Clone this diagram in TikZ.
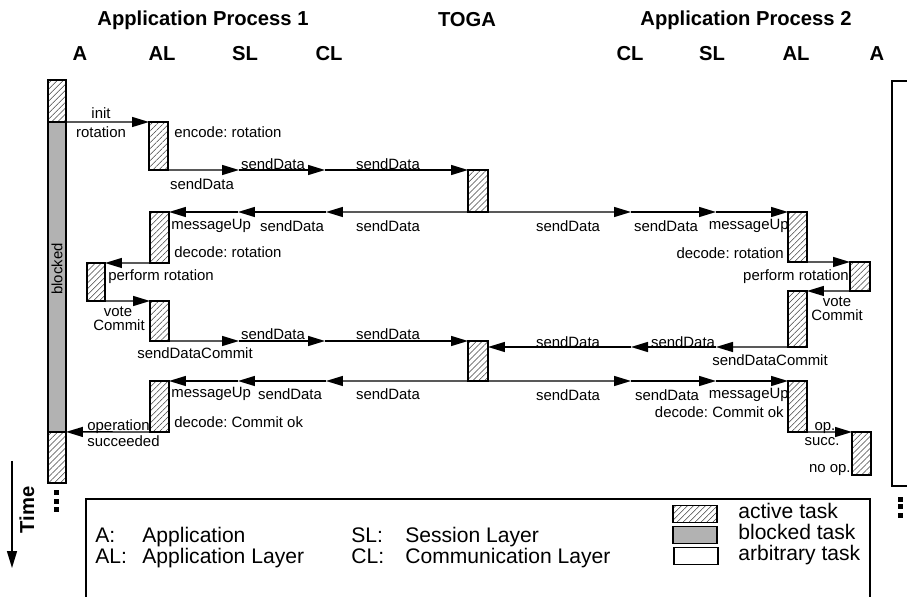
\documentclass[tikz,border=0pt]{standalone}
\usepackage{fontspec}
\setmainfont{Liberation Sans}
\usetikzlibrary{arrows.meta,patterns.meta}
\frenchspacing

\begin{document}
\begin{tikzpicture}[x=0.02cm,y=-0.02cm,>={Triangle[length=0.34cm,width=0.2cm]},
  msg/.style={->,line width=0.8pt},
  task/.style={draw,line width=0.9pt,inner sep=0pt,outer sep=0pt,anchor=north west,minimum width=0.38cm,
    pattern={Lines[angle=45,distance=2.4pt,line width=0.3pt]},pattern color=black!75},
  blk/.style={draw,line width=0.9pt,inner sep=0pt,outer sep=0pt,anchor=north west,minimum width=0.36cm,fill=black!30},
  lbl/.style={inner sep=0pt,font=\fontsize{8.5}{9}\selectfont},
  head/.style={inner sep=0pt,font=\fontsize{11.5}{13}\selectfont\bfseries},
  leg/.style={inner sep=0pt,anchor=base west,font=\fontsize{12}{14}\selectfont}]
\useasboundingbox (0,0) rectangle (907,597);
\node[head] at (203,20) {Application Process 1};
\node[head] at (467,20) {TOGA};
\node[head] at (746,20) {Application Process 2};
\foreach \x/\t in {80/A,162/AL,245/SL,329/CL,630/CL,712/SL,796/AL,877/A}
  \node[head] at (\x,54) {\t};
% application process 1
\node[task,minimum width=0.36cm,minimum height=0.84cm] (abar1) at (48,80) {};
\node[blk,minimum height=6.2cm] (ablk) at (abar1.south west) {};
\node[task,minimum width=0.36cm,minimum height=1.02cm] (abar2) at (ablk.south west) {};
\node[lbl,rotate=90] at (57,269) {blocked};
\node[task,minimum height=0.96cm] (al1) at (149,122) {};
\node[task,minimum height=1.02cm] (al2) at (150,212) {};
\node[task,minimum width=0.36cm,minimum height=0.76cm] (a2) at (87,263) {};
\node[task,minimum height=0.8cm] (al3) at (150,301) {};
\node[task,minimum height=1.02cm] (al4) at (150,381) {};
% TOGA
\node[task,minimum width=0.4cm,minimum height=0.84cm] (toga1) at (468,170) {};
\node[task,minimum width=0.4cm,minimum height=0.8cm] (toga2) at (468,341) {};
% application process 2
\node[task,minimum height=1.0cm] (alr1) at (788,212) {};
\node[task,minimum width=0.4cm,minimum height=0.58cm] (ar1) at (850,262) {};
\node[task,minimum height=1.12cm] (alr2) at (788,291) {};
\node[task,minimum height=1.02cm] (alr3) at (788,381) {};
\node[task,minimum height=0.86cm] (ar2) at (852,432) {};
\draw[line width=0.9pt] (907,81) -- (892,81) -- (892,486) -- (907,486);

\coordinate (s1) at (239,170);
\coordinate (c1) at (325,170);
\coordinate (c2) at (326,212);
\coordinate (s2) at (238,212);
\coordinate (cr2) at (631,212);
\coordinate (sr2) at (716,212);
\coordinate (s4) at (239,341);
\coordinate (c4) at (325,341);
\coordinate (sr4) at (716,347);
\coordinate (cr4) at (631,347);
\coordinate (c5) at (326,381);
\coordinate (s5) at (238,381);
\coordinate (cr5) at (631,381);
\coordinate (sr5) at (716,381);

\draw[msg] (abar1.south east) -- (al1.north west);
\draw[msg] (al1.south west) -- (s1);
\draw[msg] (s1) -- (c1);
\draw[msg] (c1) -- (toga1.north west);
\draw[msg] (toga1.south east) -- (c2);
\draw[msg] (c2) -- (s2);
\draw[msg] (s2) -- (al2.north east);
\draw[msg] (toga1.south west) -- (cr2);
\draw[msg] (cr2) -- (sr2);
\draw[msg] (sr2) -- (alr1.north west);
\draw[msg] (al2.south west) -- (a2.north east);
\draw[msg] (alr1.south east) -- (ar1.north west);
\draw[msg] (a2.south west) -- (al3.north west);
\draw[msg] (ar1.south west) -- (alr2.north east);
\draw[msg] (al3.south west) -- (s4);
\draw[msg] (s4) -- (c4);
\draw[msg] (c4) -- (toga2.north west);
\draw[msg] (alr2.south east) -- (sr4);
\draw[msg] (sr4) -- (cr4);
\draw[msg] (cr4) -- (toga2.east |- cr4);
\draw[msg] (toga2.south east) -- (c5);
\draw[msg] (c5) -- (s5);
\draw[msg] (s5) -- (al4.north east);
\draw[msg] (toga2.south west) -- (cr5);
\draw[msg] (cr5) -- (sr5);
\draw[msg] (sr5) -- (alr3.north west);
\draw[msg] (al4.south east) -- (ablk.south east);
\draw[msg] (alr3.south west) -- (ar2.north west);

\node[lbl] at (101,113) {init};
\node[lbl] at (101,132) {rotation};
\node[lbl,anchor=west] at (174,132) {encode: rotation};
\node[lbl] at (202,184) {sendData};
\node[lbl] at (273,164) {sendData};
\node[lbl] at (388,164) {sendData};
\node[lbl,anchor=west] at (171,226) {messageUp};
\node[lbl] at (292,226) {sendData};
\node[lbl] at (388,226) {sendData};
\node[lbl] at (568,226) {sendData};
\node[lbl] at (666,226) {sendData};
\node[lbl,anchor=east] at (789,226) {messageUp};
\node[lbl,anchor=west] at (174,252) {decode: rotation};
\node[lbl,anchor=east] at (784,253) {decode: rotation};
\node[lbl,anchor=west] at (108,277) {perform rotation};
\node[lbl,anchor=east] at (849,277) {perform rotation};
\node[lbl] at (118,312) {vote};
\node[lbl] at (119,325) {Commit};
\node[lbl] at (837,302) {vote};
\node[lbl] at (837,315) {Commit};
\node[lbl] at (195,353) {sendDataCommit};
\node[lbl] at (770,360) {sendDataCommit};
\node[lbl] at (273,334) {sendData};
\node[lbl] at (388,334) {sendData};
\node[lbl] at (683,342) {sendData};
\node[lbl] at (568,342) {sendData};
\node[lbl,anchor=west] at (171,394) {messageUp};
\node[lbl] at (290,394) {sendData};
\node[lbl] at (388,394) {sendData};
\node[lbl] at (568,395) {sendData};
\node[lbl] at (667,395) {sendData};
\node[lbl,anchor=east] at (789,395) {messageUp};
\node[lbl,anchor=west] at (174,422) {decode: Commit ok};
\node[lbl,anchor=east] at (784,412) {decode: Commit ok};
\node[lbl,anchor=west] at (87,427) {operation};
\node[lbl,anchor=west] at (87,441) {succeeded};
\node[lbl] at (825,428) {op.};
\node[lbl] at (822,442) {succ.};
\node[lbl,anchor=east] at (851,470) {no op.};

% time and continuation
\coordinate (t0) at (12,461);
\coordinate (t1) at (12,568);
\draw[msg] (t0) -- (t1);
\node[head,rotate=90] at (27,510) {Time};
\foreach \y in {490,499,507} \fill (54,\y) rectangle (59,\y+5);
\foreach \y in {497,504,513} \fill (898,\y) rectangle (903,\y+5);

% legend
\draw[line width=0.9pt] (86,597) -- (86,499) -- (870,499) -- (870,597);
\node[leg] at (95,543) {A:};
\node[leg] at (142,543) {Application};
\node[leg] at (95,564) {AL:};
\node[leg] at (142,564) {Application Layer};
\node[leg] at (351,543) {SL:};
\node[leg] at (405,543) {Session Layer};
\node[leg] at (351,564) {CL:};
\node[leg] at (405,564) {Communication Layer};
\node[task,anchor=west,minimum width=0.88cm,minimum height=0.34cm] at (673,514) {};
\node[blk,anchor=west,minimum width=0.88cm,minimum height=0.34cm] at (673,535) {};
\node[draw,line width=0.9pt,inner sep=0pt,anchor=west,minimum width=0.88cm,minimum height=0.34cm] at (673,556) {};
\node[leg] at (738,519) {active task};
\node[leg] at (738,540) {blocked task};
\node[leg] at (738,561) {arbitrary task};
\end{tikzpicture}
\end{document}
